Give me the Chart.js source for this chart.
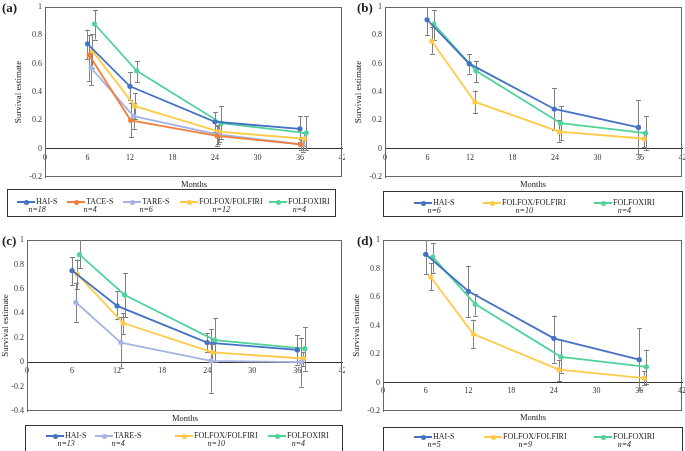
<!DOCTYPE html>
<html><head><meta charset="utf-8">
<script src="https://cdn.jsdelivr.net/npm/chart.js@4.4.1/dist/chart.umd.min.js"></script>
<style>
html,body{margin:0;padding:0;background:#fff;}
body{width:685px;height:451px;position:relative;overflow:hidden;font-family:'Liberation Serif','Times New Roman',serif;color:#222;}
canvas{position:absolute;}
.lbl{position:absolute;font-weight:bold;font-size:13px;line-height:13px;}
.months{position:absolute;font-size:8.5px;line-height:9px;transform:translate(-50%,-50%);white-space:nowrap;}
.lbox{position:absolute;border:1px solid #333;box-sizing:border-box;}
.item{position:absolute;display:inline-block;font-size:8px;line-height:8px;white-space:nowrap;}
.row{display:flex;align-items:center;}
.mk{position:relative;display:inline-block;width:18px;height:8px;margin-right:1px;}
.ln{position:absolute;left:0;top:3px;width:18px;height:2px;}
.dot{position:absolute;left:6.5px;top:1.5px;width:5px;height:5px;border-radius:50%;}
.n{text-align:center;font-style:italic;margin-top:0px;}
</style>
</head><body>
<canvas id="ca" width="345" height="182" style="left:0;top:0;width:345px;height:182px"></canvas>
<canvas id="cb" width="345" height="182" style="left:340px;top:0;width:345px;height:182px"></canvas>
<canvas id="cc" width="345" height="185" style="left:0;top:230px;width:345px;height:185px"></canvas>
<canvas id="cd" width="345" height="185" style="left:340px;top:230px;width:345px;height:185px"></canvas>

<div class="lbl" style="left:2px;top:1px">(a)</div>
<div class="lbl" style="left:357px;top:1px">(b)</div>
<div class="lbl" style="left:2px;top:234px">(c)</div>
<div class="lbl" style="left:357px;top:234px">(d)</div>

<div class="months" style="left:194px;top:184px">Months</div>
<div class="months" style="left:533px;top:184px">Months</div>
<div class="months" style="left:185px;top:418px">Months</div>
<div class="months" style="left:533px;top:417px">Months</div>

<div class="lbox" style="left:7px;top:189px;width:329px;height:28px"></div>
<div class="lbox" style="left:383px;top:191px;width:300px;height:26px"></div>
<div class="lbox" style="left:25px;top:425px;width:318px;height:28px"></div>
<div class="lbox" style="left:383px;top:427px;width:300px;height:26px"></div>
<div id="legends"></div>

<script>
// ---------- colours / series names ----------
const SERIES_NAMES = ['HAI-S', 'TACE-S', 'TARE-S', 'FOLFOX/FOLFIRI', 'FOLFOXIRI'];
const SERIES_COLORS = ['#4472C4', '#F07F3C', '#A4B5E4', '#FFCB47', '#4FD39A'];

// ---------- tick labels ----------
const xTicksMonths = [0, 6, 12, 18, 24, 30, 36, 42];

// ---------- Panel (a) ----------
const aHaiMonths = [6, 12, 24, 36];
const aHaiSurv   = [0.74, 0.44, 0.19, 0.14];
const aHaiLow    = [0.63, 0.34, 0.12, 0.05];
const aHaiHigh   = [0.84, 0.54, 0.26, 0.23];
const aTaceMonths = [6.25, 12.1, 24.3, 36.1];
const aTaceSurv   = [0.66, 0.20, 0.09, 0.03];
const aTaceLow    = [0.48, 0.08, 0.02, -0.01];
const aTaceHigh   = [0.80, 0.32, 0.16, 0.07];
const aTareMonths = [6.5, 12.5, 24.4, 36.4];
const aTareSurv   = [0.57, 0.23, 0.10, 0.03];
const aTareLow    = [0.45, 0.14, 0.03, -0.02];
const aTareHigh   = [0.69, 0.32, 0.17, 0.08];
const aFolMonths = [6.7, 12.7, 24.6, 36.6];
const aFolSurv   = [0.69, 0.30, 0.12, 0.07];
const aFolLow    = [0.57, 0.21, 0.05, 0.02];
const aFolHigh   = [0.81, 0.39, 0.19, 0.11];
const aIriMonths = [7.0, 12.95, 24.9, 36.9];
const aIriSurv   = [0.88, 0.55, 0.18, 0.11];
const aIriLow    = [0.77, 0.47, 0.07, -0.01];
const aIriHigh   = [0.98, 0.62, 0.30, 0.23];
const aCounts = [18, 4, 6, 12, 4];

// ---------- Panel (b) ----------
const bHaiMonths = [5.95, 11.9, 23.9, 35.8];
const bHaiSurv   = [0.91, 0.60, 0.28, 0.15];
const bHaiLow    = [0.80, 0.53, 0.13, -0.04];
const bHaiHigh   = [1.02, 0.67, 0.43, 0.34];
const bFolMonths = [6.6, 12.7, 24.6, 36.6];
const bFolSurv   = [0.76, 0.33, 0.12, 0.07];
const bFolLow    = [0.67, 0.25, 0.05, 0.01];
const bFolHigh   = [0.86, 0.41, 0.20, 0.12];
const bIriMonths = [6.9, 12.85, 24.8, 36.8];
const bIriSurv   = [0.88, 0.55, 0.18, 0.11];
const bIriLow    = [0.77, 0.47, 0.06, -0.01];
const bIriHigh   = [0.98, 0.62, 0.30, 0.23];
const bCounts = [6, 10, 4];

// ---------- Panel (c) ----------
const cHaiMonths = [6, 12, 24, 36];
const cHaiSurv   = [0.75, 0.46, 0.16, 0.10];
const cHaiLow    = [0.63, 0.35, 0.08, -0.02];
const cHaiHigh   = [0.86, 0.58, 0.24, 0.22];
const cTareMonths = [6.5, 12.5, 24.5, 36.5];
const cTareSurv   = [0.49, 0.16, 0.01, 0.00];
const cTareLow    = [0.33, -0.05, -0.25, -0.20];
const cTareHigh   = [0.65, 0.37, 0.27, 0.20];
const cFolMonths = [6.7, 12.8, 24.7, 36.8];
const cFolSurv   = [0.72, 0.32, 0.08, 0.03];
const cFolLow    = [0.60, 0.23, 0.01, -0.03];
const cFolHigh   = [0.84, 0.40, 0.15, 0.08];
const cIriMonths = [7.0, 13.0, 25.0, 37.0];
const cIriSurv   = [0.88, 0.55, 0.18, 0.11];
const cIriLow    = [0.77, 0.37, 0.00, -0.07];
const cIriHigh   = [1.05, 0.73, 0.36, 0.29];
const cCounts = [13, 4, 10, 4];

// ---------- Panel (d) ----------
const dHaiMonths = [6, 12, 24, 36];
const dHaiSurv   = [0.90, 0.64, 0.31, 0.16];
const dHaiLow    = [0.76, 0.46, 0.14, -0.05];
const dHaiHigh   = [1.02, 0.82, 0.47, 0.38];
const dFolMonths = [6.7, 12.7, 24.7, 36.7];
const dFolSurv   = [0.74, 0.34, 0.09, 0.03];
const dFolLow    = [0.65, 0.24, 0.01, -0.02];
const dFolHigh   = [0.84, 0.44, 0.16, 0.08];
const dIriMonths = [7.0, 12.95, 25.0, 37.0];
const dIriSurv   = [0.88, 0.55, 0.18, 0.11];
const dIriLow    = [0.77, 0.47, 0.07, -0.01];
const dIriHigh   = [0.98, 0.62, 0.30, 0.23];
const dCounts = [5, 9, 4];

const FONT = "'Liberation Serif','Times New Roman',serif";

function ds(idx, months, surv, low, high) {
  const c = SERIES_COLORS[idx];
  return {
    label: SERIES_NAMES[idx],
    data: months.map((m, i) => ({x: m, y: surv[i]})),
    errLow: low, errHigh: high,
    borderColor: c, backgroundColor: c, pointBackgroundColor: c,
    borderWidth: 1.8, pointRadius: 2.6, pointBorderWidth: 0, pointHoverRadius: 2.6,
    tension: 0
  };
}

const errorBars = {
  id: 'errorBars',
  beforeDatasetsDraw(chart) {
    const {ctx, chartArea, scales: {x, y}} = chart;
    ctx.save();
    ctx.beginPath();
    ctx.rect(chartArea.left, chartArea.top, chartArea.right - chartArea.left, chartArea.bottom - chartArea.top);
    ctx.clip();
    ctx.strokeStyle = '#808080';
    ctx.lineWidth = 1;
    chart.data.datasets.forEach(d => {
      d.data.forEach((p, i) => {
        const px = Math.round(x.getPixelForValue(p.x)) + 0.5;
        const y1 = y.getPixelForValue(d.errHigh[i]);
        const y2 = y.getPixelForValue(d.errLow[i]);
        ctx.beginPath();
        ctx.moveTo(px, y1); ctx.lineTo(px, y2);
        ctx.moveTo(px - 2.5, Math.round(y1) + 0.5); ctx.lineTo(px + 2.5, Math.round(y1) + 0.5);
        ctx.moveTo(px - 2.5, Math.round(y2) + 0.5); ctx.lineTo(px + 2.5, Math.round(y2) + 0.5);
        ctx.stroke();
      });
    });
    ctx.restore();
  }
};

const frame = {
  id: 'frame',
  beforeDatasetsDraw(chart) {
    const {ctx, chartArea: a} = chart;
    ctx.save();
    ctx.strokeStyle = '#666';
    ctx.lineWidth = 1;
    ctx.strokeRect(Math.round(a.left) + 0.5, Math.round(a.top) + 0.5, Math.round(a.right - a.left) - 1, Math.round(a.bottom - a.top) - 1);
    ctx.restore();
  }
};

function makeChart(id, datasets, yMin, yWidth, pad, titlePad) {
  return new Chart(document.getElementById(id), {
    type: 'line',
    data: {datasets},
    plugins: [frame, errorBars],
    options: {
      responsive: false, animation: false, devicePixelRatio: 1, events: [],
      layout: {padding: pad},
      plugins: {legend: {display: false}, tooltip: {enabled: false}},
      scales: {
        x: {
          type: 'linear', min: 0, max: 42, position: {y: 0},
          afterBuildTicks: s => { s.ticks = xTicksMonths.map(v => ({value: v})); },
          ticks: {font: {family: FONT, size: 8}, color: '#333', padding: 4, maxRotation: 0, autoSkip: false},
          grid: {display: false, drawTicks: false},
          border: {display: true, color: '#333', width: 1},
          afterFit: s => { s.paddingLeft = 0; s.paddingRight = 0; }
        },
        y: {
          type: 'linear', min: yMin, max: 1,
          ticks: {stepSize: 0.2, font: {family: FONT, size: 8}, color: '#333', padding: 3,
                  callback: v => String(Math.round(v * 10) / 10)},
          grid: {display: false, drawTicks: false},
          border: {display: true, color: '#666', width: 1},
          title: {display: true, text: 'Survival estimate', font: {family: FONT, size: 9}, color: '#222',
                  padding: {top: titlePad, bottom: 0}},
          afterFit: s => { s.width = yWidth; s.paddingTop = 0; s.paddingBottom = 0; }
        }
      }
    }
  });
}

makeChart('ca', [
  ds(0, aHaiMonths, aHaiSurv, aHaiLow, aHaiHigh),
  ds(1, aTaceMonths, aTaceSurv, aTaceLow, aTaceHigh),
  ds(2, aTareMonths, aTareSurv, aTareLow, aTareHigh),
  ds(3, aFolMonths, aFolSurv, aFolLow, aFolHigh),
  ds(4, aIriMonths, aIriSurv, aIriLow, aIriHigh)
], -0.2, 45, {left: 0, right: 2, top: 7, bottom: 5}, 13);

makeChart('cb', [
  ds(0, bHaiMonths, bHaiSurv, bHaiLow, bHaiHigh),
  ds(3, bFolMonths, bFolSurv, bFolLow, bFolHigh),
  ds(4, bIriMonths, bIriSurv, bIriLow, bIriHigh)
], -0.2, 45, {left: 0, right: 2, top: 7, bottom: 5}, 13);

makeChart('cc', [
  ds(0, cHaiMonths, cHaiSurv, cHaiLow, cHaiHigh),
  ds(2, cTareMonths, cTareSurv, cTareLow, cTareHigh),
  ds(3, cFolMonths, cFolSurv, cFolLow, cFolHigh),
  ds(4, cIriMonths, cIriSurv, cIriLow, cIriHigh)
], -0.4, 27, {left: 0, right: 2, top: 10, bottom: 4}, 0);

makeChart('cd', [
  ds(0, dHaiMonths, dHaiSurv, dHaiLow, dHaiHigh),
  ds(3, dFolMonths, dFolSurv, dFolLow, dFolHigh),
  ds(4, dIriMonths, dIriSurv, dIriLow, dIriHigh)
], -0.2, 43, {left: 0, right: 3, top: 10, bottom: 4}, 11);

// ---------- legends (HTML) ----------
const legendSpecs = [
  {series: [0, 1, 2, 3, 4], counts: aCounts, lefts: [17, 67, 123, 180, 269], top: 198},
  {series: [0, 3, 4], counts: bCounts, lefts: [414, 483, 594], top: 199},
  {series: [0, 2, 3, 4], counts: cCounts, lefts: [46, 95, 175, 268], top: 432},
  {series: [0, 3, 4], counts: dCounts, lefts: [414, 484, 594], top: 433}
];
const host = document.getElementById('legends');
legendSpecs.forEach(spec => {
  spec.series.forEach((s, i) => {
    const c = SERIES_COLORS[s];
    const el = document.createElement('div');
    el.className = 'item';
    el.style.left = spec.lefts[i] + 'px';
    el.style.top = spec.top + 'px';
    el.innerHTML = '<div class="row"><span class="mk"><span class="ln" style="background:' + c +
      '"></span><span class="dot" style="background:' + c + '"></span></span><span>' + SERIES_NAMES[s] +
      '</span></div><div class="n">n=' + spec.counts[i] + '</div>';
    host.appendChild(el);
  });
});
</script>
</body></html>
